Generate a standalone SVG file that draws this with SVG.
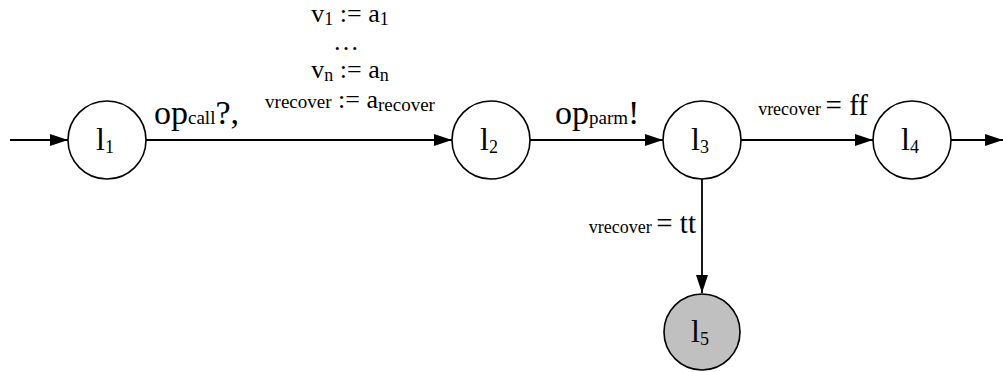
<svg xmlns="http://www.w3.org/2000/svg" width="1003" height="372" viewBox="0 0 1003 372">
<defs>
<marker id="ah" markerWidth="18" markerHeight="12" refX="18" refY="6" orient="auto" markerUnits="userSpaceOnUse">
<path d="M0,0 L18,6 L0,12 Z" fill="#000"/>
</marker>
<style>
text{font-family:"Liberation Serif","Times New Roman",serif;fill:#000}
.node{fill:#fff;stroke:#000;stroke-width:1.6}
.final{fill:#c0c0c0;stroke:#000;stroke-width:1.6}
.edge{stroke:#000;stroke-width:1.8;fill:none;marker-end:url(#ah)}
.nl{font-size:32px}
.big{font-size:26px}
.lbl{font-size:34px}
.sm{font-size:18px}
.eq{font-size:29px}
</style>
</defs>
<rect width="1003" height="372" fill="#fff"/>
<g id="connectors">
<line class="edge" x1="10" y1="140" x2="68" y2="140"/>
<line class="edge" x1="146" y1="140" x2="452" y2="140"/>
<line class="edge" x1="530" y1="140" x2="663" y2="140"/>
<line class="edge" x1="741" y1="140" x2="873" y2="140"/>
<line class="edge" x1="951" y1="140" x2="1003" y2="140"/>
<line class="edge" x1="702" y1="179" x2="702" y2="293"/>
</g>
<g id="edge-labels">
<text x="154" y="124" class="lbl">op<tspan class="sm" style="font-size:19px">call</tspan>?,</text>
<text x="350" y="22" text-anchor="middle" class="big">v<tspan class="sm" dy="3">1</tspan><tspan dy="-3"> := a</tspan><tspan class="sm" dy="3">1</tspan></text>
<text x="346" y="50" text-anchor="middle" class="big">…</text>
<text x="350" y="78" text-anchor="middle" class="big">v<tspan class="sm" dy="3">n</tspan><tspan dy="-3"> := a</tspan><tspan class="sm" dy="3">n</tspan></text>
<text x="350" y="108" text-anchor="middle" class="big"><tspan class="sm" style="font-size:19px">vrecover</tspan> := a<tspan class="sm" style="font-size:19px" dy="3">recover</tspan></text>
<text x="555" y="124" class="lbl">op<tspan class="sm" style="font-size:19px">parm</tspan>!</text>
<text x="868" y="115" text-anchor="end" class="sm">vrecover <tspan class="eq">= ff</tspan></text>
<text x="696" y="233" text-anchor="end" class="sm">vrecover <tspan class="eq">= tt</tspan></text>
</g>
<g id="l1">
<circle class="node" cx="107" cy="140" r="39"/>
<text x="105" y="150" text-anchor="middle" class="nl">l<tspan class="sm" dy="3">1</tspan></text>
</g>
<g id="l2">
<circle class="node" cx="491" cy="140" r="39"/>
<text x="489" y="150" text-anchor="middle" class="nl">l<tspan class="sm" dy="3">2</tspan></text>
</g>
<g id="l3">
<circle class="node" cx="702" cy="140" r="39"/>
<text x="700" y="150" text-anchor="middle" class="nl">l<tspan class="sm" dy="3">3</tspan></text>
</g>
<g id="l4">
<circle class="node" cx="912" cy="140" r="39"/>
<text x="910" y="150" text-anchor="middle" class="nl">l<tspan class="sm" dy="3">4</tspan></text>
</g>
<g id="l5">
<circle class="final" cx="702" cy="332" r="38"/>
<text x="700" y="342" text-anchor="middle" class="nl">l<tspan class="sm" dy="3">5</tspan></text>
</g>
</svg>
